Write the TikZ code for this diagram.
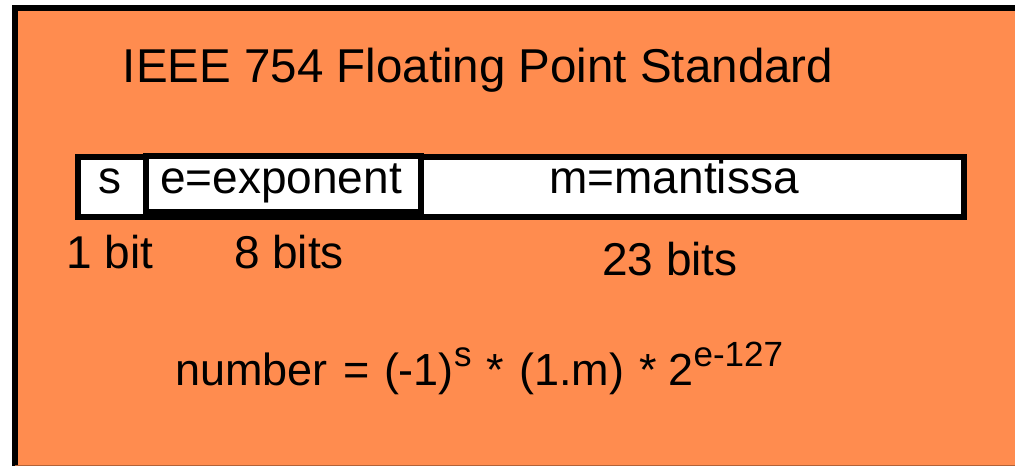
\documentclass[tikz,border=0pt]{standalone}
\usepackage{fontspec}
\setmainfont{Liberation Sans}
\definecolor{bg}{HTML}{FF8C4F}
\newcommand{\mysup}[1]{\raisebox{19pt}{\fontsize{35}{35}\selectfont #1}}
\tikzset{
  txt/.style={inner sep=0pt, anchor=base, font=\fontsize{46}{50}\selectfont},
  field/.style={draw=black, line width=6pt, fill=white, inner sep=0pt, anchor=north west}
}
\begin{document}
\begin{tikzpicture}[x=1pt,y=-1pt]
\useasboundingbox (0,0) rectangle (1015,466);
\fill[bg] (15,7.5) rectangle (1015,466);
\draw[line width=6pt] (15,466) -- (15,7.5) -- (1015,7.5);
\draw[line width=1pt, draw=bg!70!black] (15,465.5) -- (1015,465.5);
% title
\node[txt, font=\fontsize{47.5}{52}\selectfont] (title) at (478,82) {IEEE 754 Floating Point Standard};
% bar
\node[field, minimum width=886pt, minimum height=60pt] (bar) at (75,154) {};
\node[field, minimum width=275pt, minimum height=56pt] (exp) at (143,153) {};
\node[txt] (s) at (110,193) {s};
\node[txt] (e) at (281,193) {e=exponent};
\node[txt] (m) at (674,193) {m=mantissa};
% sizes
\node[txt] (l1) at (110,268) {1 bit};
\node[txt] (l8) at (289,268) {8 bits};
\node[txt] (l23) at (670,275) {23 bits};
% formula
\node[inner sep=0pt, anchor=base west, font=\fontsize{45}{50}\selectfont] (f) at (175,385)
  {number\hspace{16pt}=\hspace{14pt}(-1)\mysup{s}\hspace{15pt}*\hspace{15pt}(1.m)\hspace{15pt}*\hspace{12pt}2\mysup{e-127}};
\end{tikzpicture}
\end{document}
